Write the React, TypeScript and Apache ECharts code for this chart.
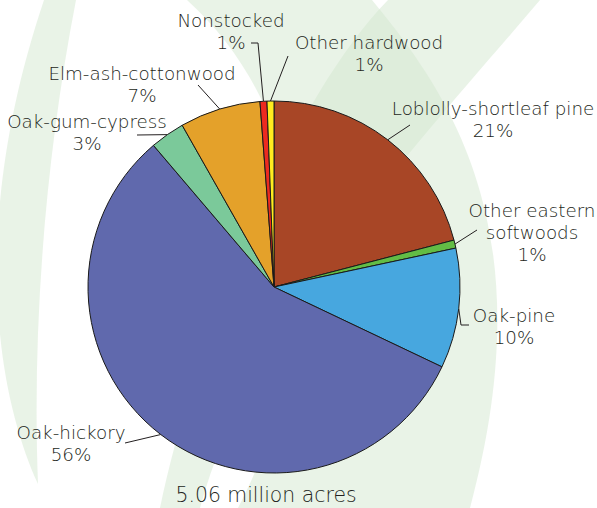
import React, { useEffect, useRef } from "react";
import * as echarts from "echarts";

// ---- data ----
const categories = [
  "Loblolly-shortleaf pine",
  "Other eastern softwoods",
  "Oak-pine",
  "Oak-hickory",
  "Oak-gum-cypress",
  "Elm-ash-cottonwood",
  "Nonstocked",
  "Other hardwood",
];
const areaShare = [20.9, 0.7, 10.4, 56.6, 3.0, 7.0, 0.6, 0.6];
const shareLabels = ["21%", "1%", "10%", "56%", "3%", "7%", "1%", "1%"];
const totalLabel = "5.06 million acres";

// ---- styling / layout ----
const sliceColors = [
  "#A84626",
  "#62BC45",
  "#47A7DF",
  "#6069AD",
  "#7BC99A",
  "#E4A12A",
  "#EC2A20",
  "#FFEC1F",
];

// label anchor (center x, top y) and leader-line bend/end points
const labelSpots: { x: number; y: number; pts: number[][] }[] = [
  { x: 493, y: 97, pts: [[410, 125]] },
  { x: 532, y: 199, pts: [[477, 230]] },
  { x: 514, y: 304, pts: [[461, 325], [469, 325]] },
  { x: 71, y: 421, pts: [[125, 443]] },
  { x: 87, y: 110, pts: [[137, 135]] },
  { x: 142, y: 62, pts: [[198, 85]] },
  { x: 231, y: 9, pts: [[258, 43], [251, 43]] },
  { x: 369, y: 31, pts: [[288, 56]] },
];

const FONT = "'DejaVu Sans', 'Noto Sans', sans-serif";
const INK = "#231f20";

const bandLeft =
  "M 44 0 L 76 0 C 45 160 32 330 38 484 C -5 390 -30 220 44 0 Z";
const bandDiag =
  "M 388 0 L 540 0 C 430 130 250 320 200 508 L 160 508 C 200 320 295 95 388 0 Z";
const bandRight =
  "M 187 0 L 372 0 C 450 95 545 230 470 508 L 238 508 C 330 330 320 120 187 0 Z";

let registered = false;
function registerBands() {
  if (registered) return;
  registered = true;
  echarts.graphic.registerShape("bandLeft", echarts.graphic.extendPath(bandLeft, {}) as any);
  echarts.graphic.registerShape("bandDiag", echarts.graphic.extendPath(bandDiag, {}) as any);
  echarts.graphic.registerShape("bandRight", echarts.graphic.extendPath(bandRight, {}) as any);
}

function wrapName(name: string) {
  return name.replace("eastern ", "eastern\n");
}

export default function App() {
  const ref = useRef<HTMLDivElement>(null);

  useEffect(() => {
    if (!ref.current) return;
    registerBands();
    const chart = echarts.init(ref.current, undefined, { renderer: "svg" });

    const bandStyle = { fill: "#d4e8cf", opacity: 0.5 };

    chart.setOption({
      animation: false,
      backgroundColor: "#ffffff",
      graphic: [
        { type: "bandLeft", x: 0, y: 0, z: 0, silent: true, style: bandStyle },
        { type: "bandDiag", x: 0, y: 0, z: 0, silent: true, style: bandStyle },
        { type: "bandRight", x: 0, y: 0, z: 0, silent: true, style: bandStyle },
        {
          type: "text",
          x: 266,
          y: 495,
          z: 5,
          silent: true,
          style: {
            text: totalLabel,
            fontSize: 20.4,
            fontFamily: FONT,
            fontWeight: 200,
            fill: INK,
            align: "center",
            verticalAlign: "middle",
          },
        },
      ],
      series: [
        {
          type: "pie",
          z: 2,
          center: [274, 287],
          radius: 186,
          startAngle: 90,
          clockwise: true,
          avoidLabelOverlap: false,
          silent: true,
          emphasis: { disabled: true },
          data: categories.map((name, i) => ({
            name,
            value: areaShare[i],
            itemStyle: { color: sliceColors[i] },
          })),
          itemStyle: { borderColor: "#1a1a1a", borderWidth: 1 },
          label: {
            show: true,
            position: "outside",
            formatter: (p: any) => wrapName(p.name) + "\n" + shareLabels[p.dataIndex],
            fontSize: 18.3,
            lineHeight: 22,
            fontFamily: FONT,
            fontWeight: 200,
            color: INK,
            align: "center",
          },
          labelLine: {
            show: true,
            length: 10,
            length2: 10,
            lineStyle: { color: INK, width: 1 },
          },
          labelLayout: (params: any) => {
            const spot = labelSpots[params.dataIndex];
            const start = params.labelLinePoints
              ? params.labelLinePoints[0]
              : [0, 0];
            const pts = [start, ...spot.pts];
            if (pts.length === 2) pts.push(pts[1]);
            return {
              x: spot.x,
              y: spot.y,
              align: "center",
              verticalAlign: "top",
              labelLinePoints: pts,
            };
          },
        },
      ],
    });

    return () => chart.dispose();
  }, []);

  return (
    <div
      ref={ref}
      style={{ position: "absolute", left: 0, top: 0, width: 597, height: 508 }}
    />
  );
}
